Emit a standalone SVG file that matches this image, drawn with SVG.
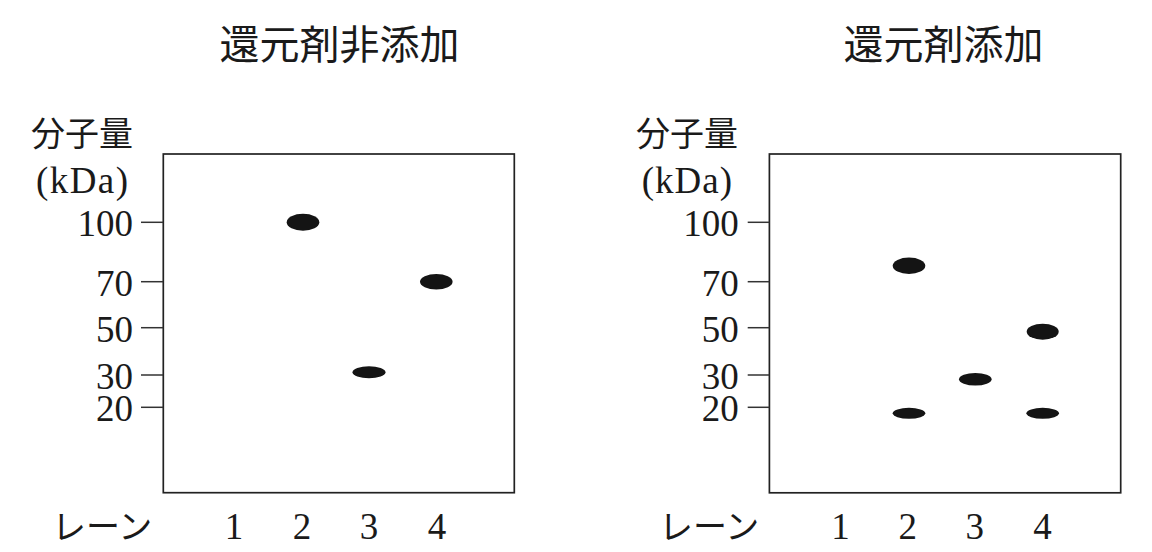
<svg xmlns="http://www.w3.org/2000/svg" width="1152" height="552" viewBox="0 0 1152 552">
<style>
.cjk{font-family:"Noto Sans CJK JP","Noto Sans CJK SC",sans-serif;fill:#1a1a1a}
.num{font-family:"Liberation Serif","Times New Roman",serif;font-size:37px;fill:#1a1a1a}
.box{fill:none;stroke:#222;stroke-width:1.7}
.tick{stroke:#333;stroke-width:1.5}
.band{fill:#141414}
</style>
<rect width="1152" height="552" fill="#fff"/>
<g id="panel-left">
<text class="cjk" x="219.5" y="58.5" font-size="40">還元剤非添加</text>
<text class="cjk" x="31" y="146" font-size="34">分子量</text>
<text class="num" x="36" y="192.5" font-size="34" textLength="92" lengthAdjust="spacing">(kDa)</text>
<rect id="gel-left" class="box" x="163.3" y="154" width="351" height="338.7"/>
<g class="tick">
<line x1="141" y1="222.3" x2="163.3" y2="222.3"/>
<line x1="141" y1="281.7" x2="163.3" y2="281.7"/>
<line x1="141" y1="327.7" x2="163.3" y2="327.7"/>
<line x1="141" y1="375" x2="163.3" y2="375"/>
<line x1="141" y1="407.3" x2="163.3" y2="407.3"/>
</g>
<g class="num" text-anchor="end">
<text x="133" y="235.5">100</text>
<text x="133" y="295.5">70</text>
<text x="133" y="341.5">50</text>
<text x="133" y="388.5">30</text>
<text x="133" y="421">20</text>
</g>
<text class="cjk" x="52" y="538.5" font-size="34">レーン</text>
<g class="num" text-anchor="middle">
<text x="234" y="538.5">1</text>
<text x="302" y="538.5">2</text>
<text x="369" y="538.5">3</text>
<text x="437" y="538.5">4</text>
</g>
<g id="bands-left">
<ellipse class="band" cx="303" cy="222.3" rx="16.3" ry="8.5"/>
<ellipse class="band" cx="436.3" cy="281.7" rx="16.3" ry="7.8"/>
<ellipse class="band" cx="369" cy="372.3" rx="16.5" ry="6"/>
</g>
</g>
<g id="panel-right">
<text class="cjk" x="843.5" y="58.5" font-size="40">還元剤添加</text>
<text class="cjk" x="636" y="146" font-size="34">分子量</text>
<text class="num" x="641.7" y="192.5" font-size="34" textLength="90.3" lengthAdjust="spacing">(kDa)</text>
<rect id="gel-right" class="box" x="769.4" y="154" width="351.3" height="338.8"/>
<g class="tick">
<line x1="747.7" y1="222.3" x2="769.4" y2="222.3"/>
<line x1="747.7" y1="281.7" x2="769.4" y2="281.7"/>
<line x1="747.7" y1="327.7" x2="769.4" y2="327.7"/>
<line x1="747.7" y1="375" x2="769.4" y2="375"/>
<line x1="747.7" y1="407.3" x2="769.4" y2="407.3"/>
</g>
<g class="num" text-anchor="end">
<text x="738.7" y="235.5">100</text>
<text x="738.7" y="295.5">70</text>
<text x="738.7" y="341.5">50</text>
<text x="738.7" y="388.5">30</text>
<text x="738.7" y="421">20</text>
</g>
<text class="cjk" x="659" y="538.5" font-size="34">レーン</text>
<g class="num" text-anchor="middle">
<text x="840.6" y="538.5">1</text>
<text x="907.8" y="538.5">2</text>
<text x="974.7" y="538.5">3</text>
<text x="1042.6" y="538.5">4</text>
</g>
<g id="bands-right">
<ellipse class="band" cx="909" cy="265.7" rx="16.3" ry="8.2"/>
<ellipse class="band" cx="1042.7" cy="331.7" rx="16" ry="8"/>
<ellipse class="band" cx="975.3" cy="379.3" rx="16.3" ry="6.3"/>
<ellipse class="band" cx="909" cy="413.3" rx="16.3" ry="5.5"/>
<ellipse class="band" cx="1042.7" cy="413.3" rx="16.3" ry="5.5"/>
</g>
</g>
<g id="connectors"/>
</svg>
